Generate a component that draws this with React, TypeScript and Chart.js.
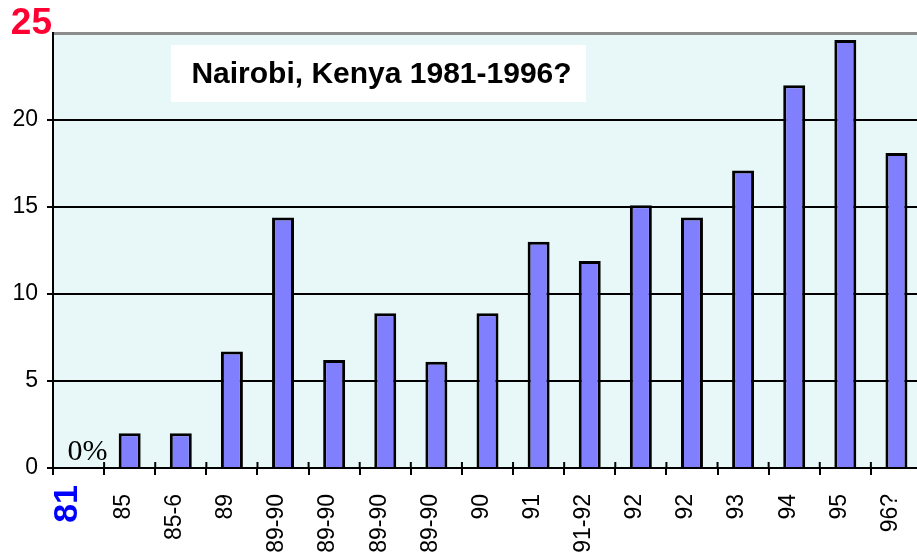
import React, { useEffect, useRef } from 'react';
import { Chart, registerables } from 'chart.js';

Chart.register(...registerables);

const categories = ['81', '85', '85-6', '89', '89-90', '89-90', '89-90', '89-90', '90', '91', '91-92', '92', '92', '93', '94', '95', '96?'];
const values = [0, 2, 2, 6.7, 14.4, 6.2, 8.9, 6.1, 8.9, 13.0, 11.9, 15.1, 14.4, 17.1, 22.0, 24.6, 18.1];
const yTickValues = [0, 5, 10, 15, 20, 25];
const title = 'Nairobi, Kenya 1981-1996?';
const zeroNote = '0%';

const SANS = '"Liberation Sans", Arial, Helvetica, sans-serif';
const SERIF = '"Liberation Serif", "Times New Roman", serif';

const decor = {
  id: 'decor',
  beforeDraw(chart: any) {
    const { ctx, chartArea: a } = chart;
    ctx.save();
    ctx.fillStyle = '#e8f8f8';
    ctx.fillRect(a.left, a.top, a.right - a.left, a.bottom - a.top);
    ctx.restore();
  },
  afterDraw(chart: any) {
    const { ctx, chartArea: a, scales } = chart;
    const xs = scales.x;
    const ys = scales.y;
    ctx.save();
    // title box
    const bx = a.left + 118, by = a.top + 12, bw = 415, bh = 57;
    ctx.fillStyle = '#ffffff';
    ctx.fillRect(bx, by, bw, bh);
    ctx.fillStyle = '#000';
    ctx.font = 'bold 30px ' + SANS;
    ctx.textAlign = 'center';
    ctx.textBaseline = 'middle';
    ctx.fillText(title, bx + bw / 2 + 3, by + bh / 2 + 1);

    // inner parts of x tick marks
    ctx.strokeStyle = '#000';
    ctx.lineWidth = 2;
    for (let i = 0; i <= categories.length; i++) {
      let px: number;
      if (i === 0) px = a.left;
      else px = (xs.getPixelForValue(i) + xs.getPixelForValue(i - 1)) / 2;
      if (i === categories.length) px = xs.getPixelForValue(i - 1) + (xs.getPixelForValue(i - 1) - xs.getPixelForValue(i - 2)) / 2;
      if (px > a.right + 1) continue;
      ctx.beginPath();
      ctx.moveTo(px, a.bottom - 6);
      ctx.lineTo(px, a.bottom);
      ctx.stroke();
    }

    // 0% note
    ctx.fillStyle = '#000';
    ctx.font = '30px ' + SERIF;
    ctx.textAlign = 'left';
    ctx.textBaseline = 'alphabetic';
    ctx.fillText(zeroNote, xs.getPixelForValue(0) - 11, ys.getPixelForValue(values[0]) - 8);

    // top y label "25"
    ctx.fillStyle = '#ff0033';
    ctx.font = 'bold 37px ' + SANS;
    ctx.textAlign = 'right';
    ctx.textBaseline = 'middle';
    ctx.fillText(String(yTickValues[yTickValues.length - 1]), a.left - 1, ys.getPixelForValue(yTickValues[yTickValues.length - 1]) - 9);

    // first category label "81"
    ctx.translate(xs.getPixelForValue(0) - 11, a.bottom + 17);
    ctx.rotate(-Math.PI / 2);
    ctx.fillStyle = '#0000ff';
    ctx.font = 'bold 34px ' + SANS;
    ctx.textAlign = 'right';
    ctx.textBaseline = 'middle';
    ctx.fillText(categories[0], 0, 0);
    ctx.restore();
  },
};

export default function App() {
  const ref = useRef<HTMLCanvasElement | null>(null);

  useEffect(() => {
    document.body.style.overflow = 'hidden';
    const canvas = ref.current;
    if (!canvas) return;
    const chart = new Chart(canvas, {
      type: 'bar',
      data: {
        labels: categories,
        datasets: [
          {
            data: values,
            backgroundColor: '#8080ff',
            borderColor: '#000000',
            borderWidth: 3,
            barPercentage: 0.43,
            categoryPercentage: 1,
          },
        ],
      },
      options: {
        responsive: false,
        animation: false,
        devicePixelRatio: 1,
        layout: { padding: { top: 33, right: 3, left: 0, bottom: 0 } },
        plugins: {
          legend: { display: false },
          tooltip: { enabled: false },
          title: { display: false },
        },
        scales: {
          x: {
            grid: {
              display: true,
              drawOnChartArea: false,
              drawTicks: true,
              tickLength: 7,
              color: '#000',
              lineWidth: 2,
              offset: true,
            },
            border: { display: true, color: '#000', width: 2 },
            ticks: {
              autoSkip: false,
              minRotation: 90,
              maxRotation: 90,
              labelOffset: -6,
              padding: 19,
              color: '#000',
              font: { size: 23, family: SANS },
              callback: (_v: any, i: number) => (i === 0 ? '' : categories[i]),
            },
            afterFit: (s: any) => {
              s.height = 87;
              s.paddingLeft = 0;
              s.paddingRight = 0;
            },
          },
          y: {
            min: 0,
            max: 25,
            grid: {
              color: (c: any) => (c.tick && c.tick.value === 25 ? '#8c8c8c' : '#000'),
              tickColor: (c: any) => (c.tick && c.tick.value === 25 ? 'rgba(0,0,0,0)' : '#000'),
              lineWidth: (c: any) => (c.tick && c.tick.value === 25 ? 3 : 2),
              tickLength: 6,
            },
            border: { display: true, color: '#000', width: 2 },
            ticks: {
              stepSize: 5,
              padding: 9,
              color: '#000',
              font: { size: 23, family: SANS },
              callback: (v: any) => (v === 25 ? '' : String(v)),
            },
            afterFit: (s: any) => {
              s.width = 53;
              s.paddingTop = 0;
              s.paddingBottom = 0;
            },
          },
        },
      },
      plugins: [decor],
    });
    return () => chart.destroy();
  }, []);

  return (
    <div style={{ position: 'fixed', left: 0, top: 0, width: 925, height: 555, background: '#fff' }}>
      <canvas ref={ref} width={925} height={555} style={{ display: 'block', width: 925, height: 555 }} />
    </div>
  );
}
